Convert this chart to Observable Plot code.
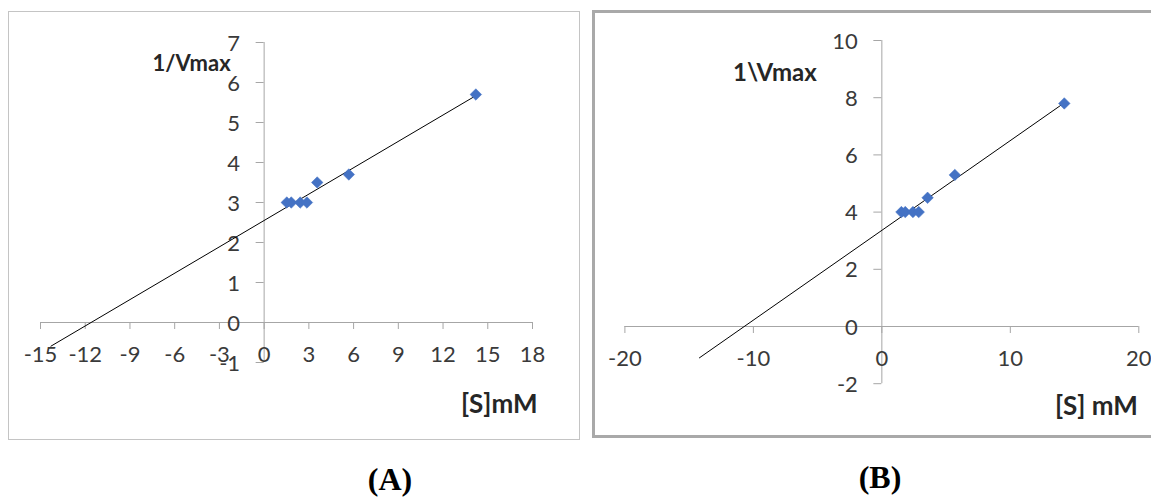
<!DOCTYPE html>
<html>
<head>
<meta charset="utf-8">
<script src="https://cdn.jsdelivr.net/npm/d3@7"></script>
<script src="https://cdn.jsdelivr.net/npm/@observablehq/plot@0.6"></script>
<style>
  html, body { margin: 0; padding: 0; background: #fff; }
  body { width: 1151px; height: 497px; position: relative; overflow: hidden; font-family: Lato, "Open Sans", sans-serif; }
  .box { position: absolute; box-sizing: border-box; pointer-events: none; }
  .chart { position: absolute; }
  .panel-label { position: absolute; font-family: "Liberation Serif", "DejaVu Serif", serif; font-weight: bold; font-size: 32px; line-height: 1; color: #000; transform: translateX(-50%); }
</style>
</head>
<body>
<div class="box" style="left:8px;top:11px;width:572px;height:429px;border:1.5px solid #c4c4c4;"></div>
<div class="box" style="left:592px;top:10px;width:580px;height:428px;border:3px solid #a9a9a9;"></div>
<div id="chartA" class="chart" style="left:8px;top:11px;"></div>
<div id="chartB" class="chart" style="left:592px;top:10px;"></div>
<div class="panel-label" style="left:390px;top:463px;">(A)</div>
<div class="panel-label" style="left:880px;top:461px;">(B)</div>
<script>
// ---- data ----
const substrate = [1.52, 1.82, 2.42, 2.87, 3.56, 5.68, 14.2];   // [S] mM (x)
const invVmaxA = [3, 3, 3, 3, 3.5, 3.7, 5.7];                   // panel A, 1/Vmax
const invVmaxB = [4, 4, 4, 4, 4.5, 5.3, 7.8];                   // panel B, 1\Vmax
const xTicksA = [-15, -12, -9, -6, -3, 0, 3, 6, 9, 12, 15, 18];
const yTicksA = [-1, 0, 1, 2, 3, 4, 5, 6, 7];
const xTicksB = [-20, -10, 0, 10, 20];
const yTicksB = [-2, 0, 2, 4, 6, 8, 10];
const trendStartA = -14.3;   // trendline backward forecast start
const trendStartB = -14.2;
const titleYA = "1/Vmax", titleXA = "[S]mM";
const titleYB = "1\\Vmax", titleXB = "[S] mM";

const axisColor = "#a6a6a6";
const labelColor = "#3a3a3a";
const markerColor = "#4472C4";

function regression(xs, ys) {
  const mx = d3.mean(xs), my = d3.mean(ys);
  let sxy = 0, sxx = 0;
  xs.forEach((x, i) => { sxy += (x - mx) * (ys[i] - my); sxx += (x - mx) ** 2; });
  const slope = sxy / sxx;
  return {slope, intercept: my - slope * mx};
}

function panel(cfg) {
  const pts = substrate.map((s, i) => ({x: s, y: cfg.values[i]}));
  const {slope, intercept} = regression(substrate, cfg.values);
  const xEnd = d3.max(substrate);
  const trend = [cfg.trendStart, xEnd].map(x => ({x, y: intercept + slope * x}));
  return Plot.plot({
    width: cfg.width, height: cfg.height,
    marginLeft: cfg.ml, marginRight: cfg.mr, marginTop: cfg.mt, marginBottom: cfg.mb,
    x: {domain: cfg.xDomain, axis: null},
    y: {domain: cfg.yDomain, axis: null},
    style: {fontFamily: "Lato, 'Open Sans', sans-serif", background: "transparent", overflow: "visible"},
    marks: [
      Plot.ruleY([0], {stroke: axisColor, strokeWidth: 1}),
      Plot.ruleX([0], {stroke: axisColor, strokeWidth: 1}),
      Plot.ruleX(cfg.xTicks, {x: d => d, y1: () => 0, y2: () => 0, insetBottom: -7, stroke: axisColor}),
      Plot.ruleY(cfg.yTicks, {y: d => d, x1: () => 0, x2: () => 0, insetLeft: -8, stroke: axisColor}),
      Plot.text(cfg.xTicks, {x: d => d, y: () => 0, text: d => String(d), dy: 32, fontSize: 22, fill: labelColor}),
      Plot.text(cfg.yTicks, {x: () => 0, y: d => d, text: d => String(d), dx: -24, dy: 1, textAnchor: "end", fontSize: 22, fill: labelColor}),
      Plot.line(trend, {x: "x", y: "y", stroke: "#000", strokeWidth: 1}),
      Plot.dot(pts, {x: "x", y: "y", symbol: "diamond2", r: 5.2, fill: markerColor, stroke: markerColor, strokeWidth: 0.5}),
      Plot.text([cfg.titleY], {frameAnchor: "top-left", lineAnchor: "middle", dx: cfg.tyDx, dy: cfg.tyDy, fontSize: cfg.tySize, fontWeight: "bold", fill: "#262626", textAnchor: "middle"}),
      Plot.text([cfg.titleX], {frameAnchor: "bottom-right", lineAnchor: "middle", dx: cfg.txDx, dy: cfg.txDy, fontSize: cfg.txSize, fontWeight: "bold", fill: "#262626", textAnchor: "end"})
    ]
  });
}

document.getElementById("chartA").append(panel({
  values: invVmaxA, trendStart: trendStartA,
  width: 572, height: 429, ml: 32, mr: 48, mt: 31, mb: 78,
  xDomain: [-15, 18], yDomain: [-1, 7], xTicks: xTicksA, yTicks: yTicksA,
  titleY: titleYA, titleX: titleXA, tyDx: 151, tyDy: 21, txDx: 5, txDy: 42,
  tySize: 22, txSize: 26
}));

document.getElementById("chartB").append(panel({
  values: invVmaxB, trendStart: trendStartB,
  width: 559, height: 428, ml: 32.4, mr: 12.7, mt: 30, mb: 54.8,
  xDomain: [-20, 20], yDomain: [-2, 10], xTicks: xTicksB, yTicks: yTicksB,
  titleY: titleYB, titleX: titleXB, tyDx: 150, tyDy: 33, txDx: -1, txDy: 23,
  tySize: 24, txSize: 26
}));
</script>
</body>
</html>
